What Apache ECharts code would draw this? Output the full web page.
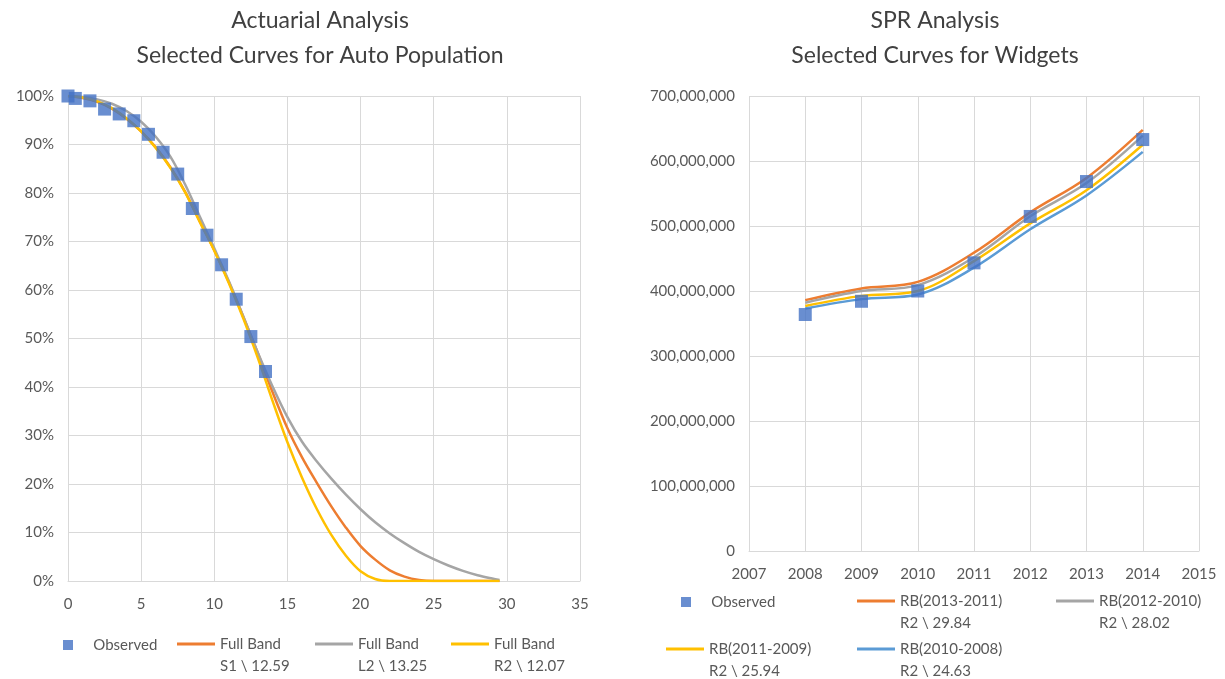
<!DOCTYPE html>
<html>
<head>
<meta charset="utf-8">
<title>Actuarial / SPR Analysis</title>
<script src="https://cdn.jsdelivr.net/npm/echarts@6/dist/echarts.min.js"></script>
<style>
  html, body { margin: 0; padding: 0; background: #fff; }
  #chart { width: 1225px; height: 679px; }
</style>
</head>
<body>
<div id="chart"></div>
<script>
// ---- left chart: survivor curves (percent surviving by age) ----
const obsAge = [0, 0.5, 1.5, 2.5, 3.5, 4.5, 5.5, 6.5, 7.5, 8.5, 9.5, 10.5, 11.5, 12.5, 13.5];
const obsPct = [100, 99.5, 99.0, 97.3, 96.3, 94.9, 92.1, 88.4, 83.9, 76.8, 71.3, 65.2, 58.1, 50.4, 43.2];

const curveAge = [0, 1, 2, 3, 4, 5, 6, 7, 8, 9, 10, 11, 12, 13, 14, 15, 16, 17, 18, 19, 20,
  21, 22, 23, 24, 25, 26, 27, 28, 29, 29.5];
const s1Pct = [100, 99.6, 98.8, 97.4, 95.3, 92.7, 89.4, 85.3, 80.3, 74.2, 68.2, 61.6, 54.4, 46.8,
  38.8, 31.5, 25.5, 20.3, 15.4, 11.0, 7.2, 4.4, 2.2, 0.9, 0.2, 0, 0, 0, 0, 0, 0];
const l2Pct = [100, 99.8, 99.3, 98.4, 96.9, 94.7, 91.6, 87.5, 81.8, 75.2, 68.6, 61.8, 54.4, 46.9,
  40.0, 33.8, 28.7, 24.7, 21.1, 17.8, 14.8, 12.1, 9.8, 7.8, 6.0, 4.5, 3.2, 2.1, 1.2, 0.5, 0.2];
const r2Pct = [100, 99.7, 98.9, 97.5, 95.4, 92.7, 89.3, 85.2, 80.2, 74.1, 68.1, 61.4, 54.0, 45.8,
  37.0, 28.6, 21.3, 14.9, 9.5, 5.2, 2.0, 0.4, 0, 0, 0, 0, 0, 0, 0, 0, 0];

const leftNames = ['Observed', 'Full Band\nS1 \\ 12.59', 'Full Band\nL2 \\ 13.25', 'Full Band\nR2 \\ 12.07'];

// ---- right chart: SPR curves (units) ----
const years = [2008, 2009, 2010, 2011, 2012, 2013, 2014];
const observedUnits = [363.8e6, 384.2e6, 400.0e6, 443.3e6, 514.7e6, 568.4e6, 633.0e6];
const rb1311 = [386e6, 404e6, 414e6, 459e6, 521e6, 574e6, 648e6];
const rb1210 = [382e6, 400e6, 409e6, 452e6, 515e6, 566e6, 639e6];
const rb1109 = [377e6, 392.5e6, 400e6, 446e6, 504e6, 555e6, 625e6];
const rb1008 = [373e6, 387.5e6, 394.5e6, 436e6, 495e6, 547e6, 614e6];

const rightNames = ['Observed ', 'RB(2013-2011)\nR2 \\ 29.84', 'RB(2012-2010)\nR2 \\ 28.02',
  'RB(2011-2009)\nR2 \\ 25.94', 'RB(2010-2008)\nR2 \\ 24.63'];

const COLORS = { obs: '#4472C4', orange: '#ED7D31', gray: '#A5A5A5', yellow: '#FFC000', blue: '#5B9BD5' };
const FONT = 'Lato, "Open Sans", sans-serif';
const GRID_LINE = '#d9d9d9';
const LABEL = '#595959';

const zip = (xs, ys) => xs.map((x, i) => [x, ys[i]]);

const chart = echarts.init(document.getElementById('chart'), null, { renderer: 'canvas' });

function curve(name, xs, ys, color, axis) {
  return {
    name, type: 'line', xAxisIndex: axis, yAxisIndex: axis,
    data: zip(xs, ys), smooth: 0.35,
    symbol: 'none', lineStyle: { color, width: 2.5 }, itemStyle: { color },
    silent: true, z: 2,
  };
}

function squares(name, xs, ys, axis) {
  return {
    name, type: 'scatter', xAxisIndex: axis, yAxisIndex: axis,
    data: zip(xs, ys), symbol: 'rect', symbolSize: 13,
    itemStyle: { color: COLORS.obs }, z: 5,
  };
}

// one legend component per entry, so the Excel-style columns can be placed exactly.
// two-line labels get an empty first line so that the first text line sits level with the icon.
function legendEntry(name, left, lineY) {
  const twoLines = name.indexOf('\n') >= 0;
  const base = {
    data: [{ name, icon: 'rect' }], padding: 0, itemGap: 5, selectedMode: false,
    textStyle: { fontFamily: FONT, fontSize: 15, color: LABEL, lineHeight: 22 },
  };
  if (twoLines) {
    return Object.assign(base, {
      left, top: lineY - 34, itemWidth: 38, itemHeight: 3,
      formatter: n => '\n' + n,
    });
  }
  return Object.assign(base, {
    left, top: lineY - 11, itemWidth: 10, itemHeight: 10,
    formatter: n => '    ' + n.trim(),
  });
}

function valueAxis(grid, min, max, interval, fmt, margin, extra) {
  return Object.assign({
    type: 'value', gridIndex: grid, min, max, interval,
    axisLine: { show: false }, axisTick: { show: false },
    splitLine: { show: true, lineStyle: { color: GRID_LINE, width: 1 } },
    axisLabel: { fontFamily: FONT, fontSize: 15, color: LABEL, formatter: fmt, margin },
  }, extra || {});
}

const titleStyle = { fontFamily: FONT, fontSize: 23, fontWeight: 'normal', color: '#404040', lineHeight: 35 };

const option = {
  backgroundColor: '#ffffff',
  animation: false,
  title: [
    { text: 'Actuarial Analysis\nSelected Curves for Auto Population', left: 320, top: 3, padding: 0,
      textAlign: 'center', textStyle: titleStyle },
    { text: 'SPR Analysis\nSelected Curves for Widgets', left: 935, top: 3, padding: 0,
      textAlign: 'center', textStyle: titleStyle },
  ],
  grid: [
    { left: 68, right: 645, top: 96, bottom: 98 },
    { left: 749, right: 26, top: 96, bottom: 128 },
  ],
  xAxis: [
    valueAxis(0, 0, 35, 5, v => String(v), 16,
      { axisLine: { show: true, lineStyle: { color: GRID_LINE, width: 1 } } }),
    valueAxis(1, 2007, 2015, 1, v => String(v), 16,
      { axisLine: { show: true, lineStyle: { color: GRID_LINE, width: 1 } } }),
  ],
  yAxis: [
    valueAxis(0, 0, 100, 10, v => v + '%', 14),
    valueAxis(1, 0, 700000000, 100000000, v => v.toLocaleString('en-US'), 14),
  ],
  legend: [
    legendEntry(leftNames[0], 63, 645),
    legendEntry(leftNames[1], 177, 645),
    legendEntry(leftNames[2], 315, 645),
    legendEntry(leftNames[3], 451, 645),
    legendEntry(rightNames[0], 681, 602),
    legendEntry(rightNames[1], 857, 602),
    legendEntry(rightNames[2], 1056, 602),
    legendEntry(rightNames[3], 666, 650),
    legendEntry(rightNames[4], 857, 650),
  ],
  series: [
    curve(leftNames[1], curveAge, s1Pct, COLORS.orange, 0),
    curve(leftNames[2], curveAge, l2Pct, COLORS.gray, 0),
    curve(leftNames[3], curveAge, r2Pct, COLORS.yellow, 0),
    squares(leftNames[0], obsAge, obsPct, 0),

    curve(rightNames[1], years, rb1311, COLORS.orange, 1),
    curve(rightNames[2], years, rb1210, COLORS.gray, 1),
    curve(rightNames[3], years, rb1109, COLORS.yellow, 1),
    curve(rightNames[4], years, rb1008, COLORS.blue, 1),
    squares(rightNames[0], years, observedUnits, 1),
  ],
};

chart.setOption(option);
window.addEventListener('resize', () => chart.resize());
</script>
</body>
</html>
